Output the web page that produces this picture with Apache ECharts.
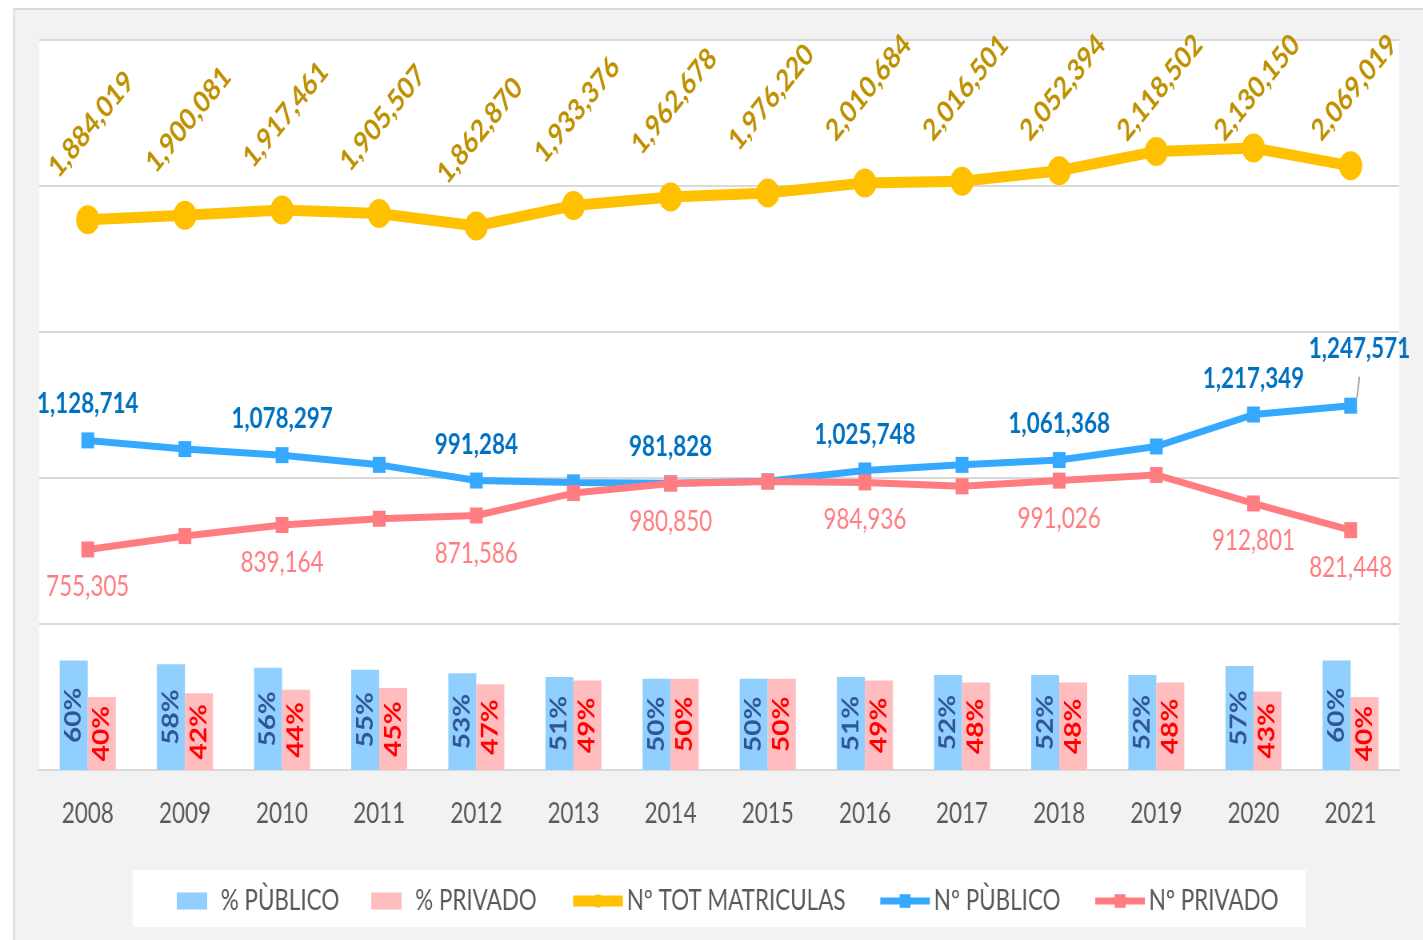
<!DOCTYPE html>
<html>
<head>
<meta charset="utf-8">
<script src="https://cdn.jsdelivr.net/npm/echarts@6/dist/echarts.min.js"></script>
<style>
html, body { margin: 0; padding: 0; background: #fff; overflow: hidden; }
/* the reference is a horizontally squeezed screenshot, so draw wide and squeeze */
#chart { width: 1779px; height: 940px; transform: scaleX(0.8); transform-origin: 0 0; }
</style>
</head>
<body>
<div id="chart"></div>
<script>
// datos de matrículas por año
const years = ['2008', '2009', '2010', '2011', '2012', '2013', '2014', '2015', '2016', '2017', '2018', '2019', '2020', '2021'];
const pctPublico = [60, 58, 56, 55, 53, 51, 50, 50, 51, 52, 52, 52, 57, 60];
const pctPrivado = [40, 42, 44, 45, 47, 49, 50, 50, 49, 48, 48, 48, 43, 40];
const totMatriculas = [1884019, 1900081, 1917461, 1905507, 1862870, 1933376, 1962678, 1976220, 2010684, 2016501, 2052394, 2118502, 2130150, 2069019];
const nPublico = [1128714, 1099000, 1078297, 1045000, 991284, 985000, 981828, 988500, 1025748, 1045000, 1061368, 1108000, 1217349, 1247571];
const nPrivado = [755305, 801081, 839164, 860507, 871586, 948376, 980850, 987720, 984936, 971501, 991026, 1010502, 912801, 821448];
// puntos que llevan etiqueta en las series de público / privado
const labeledIdx = [0, 2, 4, 6, 8, 10, 12, 13];

const FONT = "Lato, 'Open Sans', sans-serif";
const fmt = v => Number(v).toLocaleString('en-US');

const chart = echarts.init(document.getElementById('chart'));

function lineData(values, extra) {
    return values.map((v, i) => {
        const item = { value: v, label: { show: labeledIdx.includes(i) } };
        if (extra && extra[i]) Object.assign(item, extra[i]);
        return item;
    });
}

const option = {
    backgroundColor: '#fff',
    animation: false,
    graphic: [
        {
            type: 'rect', z: -10,
            shape: { x: 17.5, y: 9, width: 1800, height: 950 },
            style: { fill: '#f2f2f2', stroke: '#d9d9d9', lineWidth: 2 }
        },
        {
            type: 'rect', z: -9,
            shape: { x: 166, y: 870, width: 1466, height: 57 },
            style: { fill: '#fff' }
        }
    ],
    grid: {
        left: 49, right: 30, top: 40, bottom: 170,
        show: true, backgroundColor: '#fff', borderWidth: 0
    },
    legend: {
        left: 216, top: 882,
        itemGap: 40,
        itemWidth: 62, itemHeight: 17,
        textStyle: { fontFamily: FONT, fontSize: 28, color: '#595959' },
        lineStyle: { width: 'inherit' },
        data: [
            { name: '% PÙBLICO', icon: 'path://M0,0H38V17H0Z' },
            { name: '% PRIVADO', icon: 'path://M0,0H38V17H0Z' },
            'Nº TOT MATRICULAS', 'Nº PÙBLICO', 'Nº PRIVADO'
        ]
    },
    xAxis: {
        type: 'category',
        data: years,
        axisLine: { lineStyle: { color: '#d9d9d9', width: 2 } },
        axisTick: { show: false },
        axisLabel: { fontFamily: FONT, fontSize: 28, color: '#595959', margin: 30 }
    },
    yAxis: [
        {
            type: 'value', min: 0, max: 2500000, interval: 500000,
            axisLabel: { show: false },
            axisLine: { show: false }, axisTick: { show: false },
            splitLine: { lineStyle: { color: '#d9d9d9', width: 2 } }
        },
        {
            type: 'value', min: 0, max: 400,
            show: false, splitLine: { show: false }
        }
    ],
    series: [
        {
            name: '% PÙBLICO',
            type: 'bar', yAxisIndex: 1,
            data: pctPublico,
            barWidth: 35, barGap: '0%',
            itemStyle: { color: '#91cffe' },
            label: {
                show: true, position: 'inside', rotate: 90,
                formatter: '{c}%', fontFamily: FONT, fontWeight: 'bold',
                fontSize: 28, color: '#2f5597'
            }
        },
        {
            name: '% PRIVADO',
            type: 'bar', yAxisIndex: 1,
            data: pctPrivado,
            barWidth: 35,
            itemStyle: { color: '#ffbdbf' },
            label: {
                show: true, position: 'inside', rotate: 90,
                formatter: '{c}%', fontFamily: FONT, fontWeight: 'bold',
                fontSize: 28, color: '#ff0000'
            }
        },
        {
            name: 'Nº PÙBLICO',
            type: 'line', z: 3,
            data: lineData(nPublico, { 13: { label: { show: true, offset: [11, -21] }, labelLine: { show: true } } }),
            symbol: 'rect', symbolSize: 16,
            lineStyle: { color: '#35a9ff', width: 7 },
            itemStyle: { color: '#35a9ff' },
            label: {
                position: 'top', distance: 14,
                formatter: p => fmt(p.value),
                fontFamily: FONT, fontWeight: 'bold', fontSize: 28, color: '#0070c0'
            },
            labelLine: { show: false, lineStyle: { color: '#a6a6a6', width: 2 } }
        },
        {
            name: 'Nº PRIVADO',
            type: 'line', z: 4,
            data: lineData(nPrivado),
            symbol: 'rect', symbolSize: 16,
            lineStyle: { color: '#ff7c80', width: 7 },
            itemStyle: { color: '#ff7c80' },
            label: {
                position: 'bottom', distance: 16,
                formatter: p => fmt(p.value),
                fontFamily: FONT, fontSize: 28, color: '#ff7c80'
            }
        },
        {
            name: 'Nº TOT MATRICULAS',
            type: 'line', z: 5,
            data: totMatriculas,
            symbol: 'circle', symbolSize: 29,
            lineStyle: { color: '#ffc000', width: 11 },
            itemStyle: { color: '#ffc000' },
            label: {
                show: true, position: [-29, -33], rotate: 45,
                align: 'left', verticalAlign: 'middle',
                formatter: p => fmt(p.value),
                fontFamily: FONT, fontWeight: 'bold', fontSize: 30, color: '#bf9000'
            },
            // las etiquetas altas se empujan hacia abajo (dx/dy van en el eje girado 45°)
            labelLayout: p => {
                const d = Math.max(0, 29 - p.labelRect.y) * Math.SQRT1_2;
                return { dx: -d, dy: d };
            }
        }
    ]
};

chart.setOption(option);
window.addEventListener('resize', () => chart.resize());
</script>
</body>
</html>
